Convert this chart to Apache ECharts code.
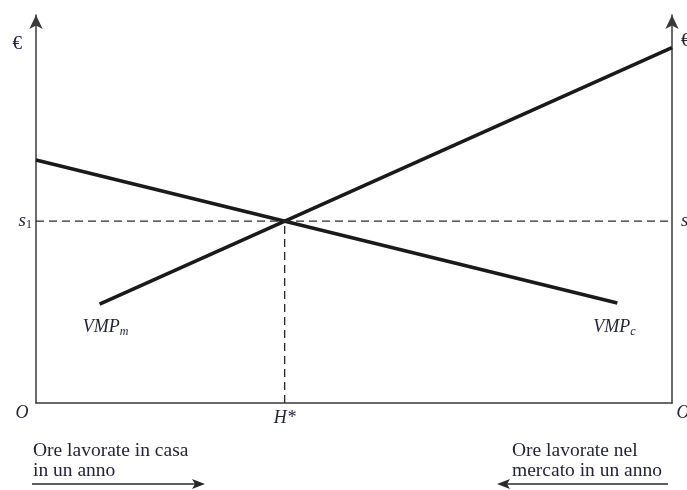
<!DOCTYPE html>
<html lang="it">
<head>
  <meta charset="UTF-8">
  <title>VMP casa / mercato</title>
  <script src="https://cdn.jsdelivr.net/npm/echarts@6/dist/echarts.min.js"></script>
  <style>
    html, body { margin: 0; padding: 0; background: #fff; }
    #chart { width: 687px; height: 490px; }
  </style>
</head>
<body>
<div id="chart"></div>
<script>
// ore (0 = O a sinistra, 100 = O a destra) e valori in euro, scala arbitraria
const vmpC = [[0, 62.6], [91.4, 25.8]];    // valore marginale nel mercato
const vmpM = [[100, 91.6], [10, 25.5]];    // valore marginale in casa (disegnato dall'estremo destro)
const hStar = 39.1;
const s1 = 46.9;
const euroY = 92.5;
const xTicks = [0, hStar, 100];
const xTickLabels = ['O', 'H*', 'O'];

const ink = '#23243a';
const serif = 'Liberation Serif';

const chart = echarts.init(document.getElementById('chart'));

const yRich = {
  i: { fontFamily: serif, fontStyle: 'italic', fontSize: 19, color: ink },
  sub: { fontFamily: serif, fontSize: 12, color: ink, padding: [8, 0, 0, 0] },
  e: { fontFamily: serif, fontSize: 19, color: ink }
};

function vmpLabel(sub) {
  return {
    show: true, position: 'inside',
    formatter: '{a|VMP}{b|' + sub + '}',
    rich: {
      a: { fontFamily: serif, fontStyle: 'italic', fontSize: 18, color: ink },
      b: { fontFamily: serif, fontStyle: 'italic', fontSize: 12, color: ink, padding: [9, 0, 0, 0] }
    }
  };
}

chart.setOption({
  animation: false,
  grid: { left: 36, right: 15, top: 15, bottom: 87, outerBoundsMode: 'none', containLabel: false },
  xAxis: {
    type: 'value', min: 0, max: 100,
    axisLine: { lineStyle: { color: '#3a3a3a', width: 1.5 } },
    axisTick: { show: false },
    splitLine: { show: false },
    axisLabel: {
      customValues: xTicks,
      margin: 1,
      formatter: v => {
        const i = xTicks.indexOf(v);
        if (i === 0) return '{l|' + xTickLabels[0] + '}';
        if (i === 2) return '{r|' + xTickLabels[2] + '}';
        return '{h|' + xTickLabels[1] + '}';
      },
      rich: {
        l: { fontFamily: serif, fontStyle: 'italic', fontSize: 18, color: ink, padding: [0, 28, 0, 0] },
        r: { fontFamily: serif, fontStyle: 'italic', fontSize: 18, color: ink, padding: [0, 0, 0, 22] },
        h: { fontFamily: serif, fontStyle: 'italic', fontSize: 18, color: ink, padding: [5, 0, 0, 0] }
      }
    }
  },
  yAxis: [{
    type: 'value', min: 0, max: 100, position: 'left',
    axisLine: { show: true, symbol: ['none', 'arrow'], symbolSize: [10, 14],
                lineStyle: { color: '#3a3a3a', width: 1.5 } },
    axisTick: { show: false },
    splitLine: { show: false },
    axisLabel: { customValues: [s1, euroY], margin: 4,
                 formatter: v => v === s1 ? '{i|s}{sub|1}' : '{e|€}',
                 rich: Object.assign({}, yRich, { e: Object.assign({}, yRich.e, { padding: [0, 10, 0, 0] }) }) }
  }, {
    type: 'value', min: 0, max: 100, position: 'right',
    axisLine: { show: true, symbol: ['none', 'arrow'], symbolSize: [10, 14],
                lineStyle: { color: '#3a3a3a', width: 1.5 } },
    axisTick: { show: false },
    splitLine: { show: false },
    axisLabel: { customValues: [s1, euroY + 0.8], margin: 9,
                 formatter: v => v === s1 ? '{i|s}{sub|1}' : '{e|€}', rich: yRich }
  }],
  series: [{
    name: 'VMPc', type: 'line', data: vmpC, symbol: 'none',
    lineStyle: { color: '#1a1a1a', width: 3.6 },
    markPoint: {
      symbol: 'circle', symbolSize: 0,
      data: [{ coord: vmpC[1], label: Object.assign(vmpLabel('c'), { offset: [-3, 24] }) }]
    }
  }, {
    name: 'VMPm', type: 'line', data: vmpM, symbol: 'none',
    lineStyle: { color: '#1a1a1a', width: 3.6 },
    markPoint: {
      symbol: 'circle', symbolSize: 0,
      data: [{ coord: vmpM[1], label: Object.assign(vmpLabel('m'), { offset: [6, 23] }) }]
    }
  }, {
    name: 's1', type: 'line', data: [[0, s1], [100, s1]], symbol: 'none',
    lineStyle: { color: '#2a2a2a', width: 1.3, type: [8, 5] }
  }, {
    name: 'H*', type: 'line', data: [[hStar, 0], [hStar, s1]], symbol: 'none',
    lineStyle: { color: '#2a2a2a', width: 1.3, type: [8, 5] }
  }],
  graphic: [
    { type: 'text', left: 33, top: 441,
      style: { text: 'Ore lavorate in casa\nin un anno', font: '19.5px "Liberation Serif"', fill: ink, lineHeight: 20 } },
    { type: 'line', shape: { x1: 32, y1: 484, x2: 198, y2: 484 }, style: { stroke: '#2a2a2a', lineWidth: 1.6 } },
    { type: 'polygon', shape: { points: [[205, 484], [192, 479], [195, 484], [192, 489]] }, style: { fill: '#2a2a2a' } },
    { type: 'text', left: 512, top: 441,
      style: { text: 'Ore lavorate nel\nmercato in un anno', font: '19.5px "Liberation Serif"', fill: ink, lineHeight: 20 } },
    { type: 'line', shape: { x1: 504, y1: 484, x2: 668, y2: 484 }, style: { stroke: '#2a2a2a', lineWidth: 1.6 } },
    { type: 'polygon', shape: { points: [[497, 484], [510, 479], [507, 484], [510, 489]] }, style: { fill: '#2a2a2a' } }
  ]
});
</script>
</body>
</html>
